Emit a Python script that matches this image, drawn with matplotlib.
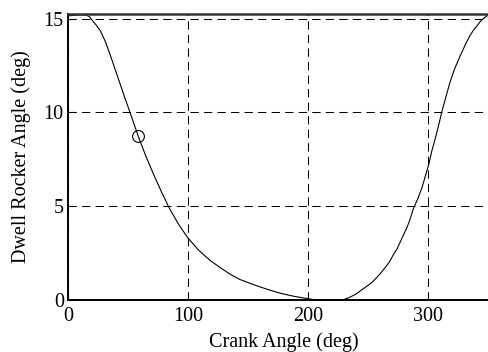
import numpy as np
import matplotlib
matplotlib.use("Agg")
import matplotlib.pyplot as plt

# crank angle (deg) vs dwell rocker angle (deg)
crank = [0, 8, 12, 15, 18, 21, 24, 27, 31, 35, 39, 43, 47, 51.7, 58.6, 65, 72,
         78, 84, 92, 100, 109, 118, 127, 135, 143, 152, 160, 168, 177, 188,
         199, 205, 215, 228, 230, 234, 238, 240, 246.5, 250, 254, 260.4, 264,
         268, 271, 274.4, 278, 282.7, 285, 288, 291.5, 295, 300.8, 303, 306,
         309, 311.4, 315, 318.3, 322, 326.7, 331, 335, 338, 340.6, 343, 345,
         349, 352, 360]
rocker = [15.15, 15.2, 15.2, 15.2, 15.1, 14.85, 14.62, 14.35, 13.8, 13.1, 12.35,
          11.6, 10.85, 10.0, 8.72, 7.65, 6.6, 5.75, 4.95, 4.05, 3.3, 2.65, 2.13,
          1.72, 1.38, 1.1, 0.88, 0.7, 0.53, 0.36, 0.2, 0.08, 0.02, 0.0, 0.0,
          0.03, 0.12, 0.25, 0.32, 0.62, 0.78, 0.98, 1.42, 1.7, 2.05, 2.4, 2.75,
          3.25, 3.9, 4.3, 4.9, 5.4, 6.0, 7.27, 7.9, 8.6, 9.35, 10.0, 10.85,
          11.6, 12.3, 13.0, 13.6, 14.1, 14.4, 14.6, 14.8, 14.95, 15.15, 15.2,
          15.2]
marker_x = [58.6]
marker_y = [8.72]

xticks = [0, 100, 200, 300]
yticks = [0, 5, 10, 15]

plt.rcParams['font.family'] = ['Liberation Serif', 'DejaVu Serif']
plt.rcParams['font.size'] = 14.5

fig = plt.figure(figsize=(4.88, 3.52), dpi=100)
ax = fig.add_axes([68 / 488, 52 / 352, 432 / 488, 286 / 352])

ax.plot(crank, rocker, color='black', lw=0.8)
ax.plot(marker_x, marker_y, 'o', mfc='none', mec='black', ms=8.5, mew=0.8)

ax.set_xlim(0, 360)
ax.set_ylim(0, 15.25)
ax.set_xticks(xticks)
ax.set_yticks(yticks)
ax.grid(True, color='black', lw=0.75, linestyle=(0, (8, 5)))
ax.tick_params(direction='in', length=4, width=0.8)
ax.tick_params(axis='x', pad=5)
ax.tick_params(axis='y', pad=3)
for side in ['left', 'bottom']:
    ax.spines[side].set_linewidth(1.4)
ax.spines['top'].set_linewidth(1.8)
ax.spines['top'].set_color('#333333')
ax.spines['right'].set_visible(False)

ax.set_xlabel("Crank Angle (deg)", labelpad=4.5)
ax.set_ylabel("Dwell Rocker Angle (deg)", labelpad=9)

fig.savefig("out.png", dpi=100)
